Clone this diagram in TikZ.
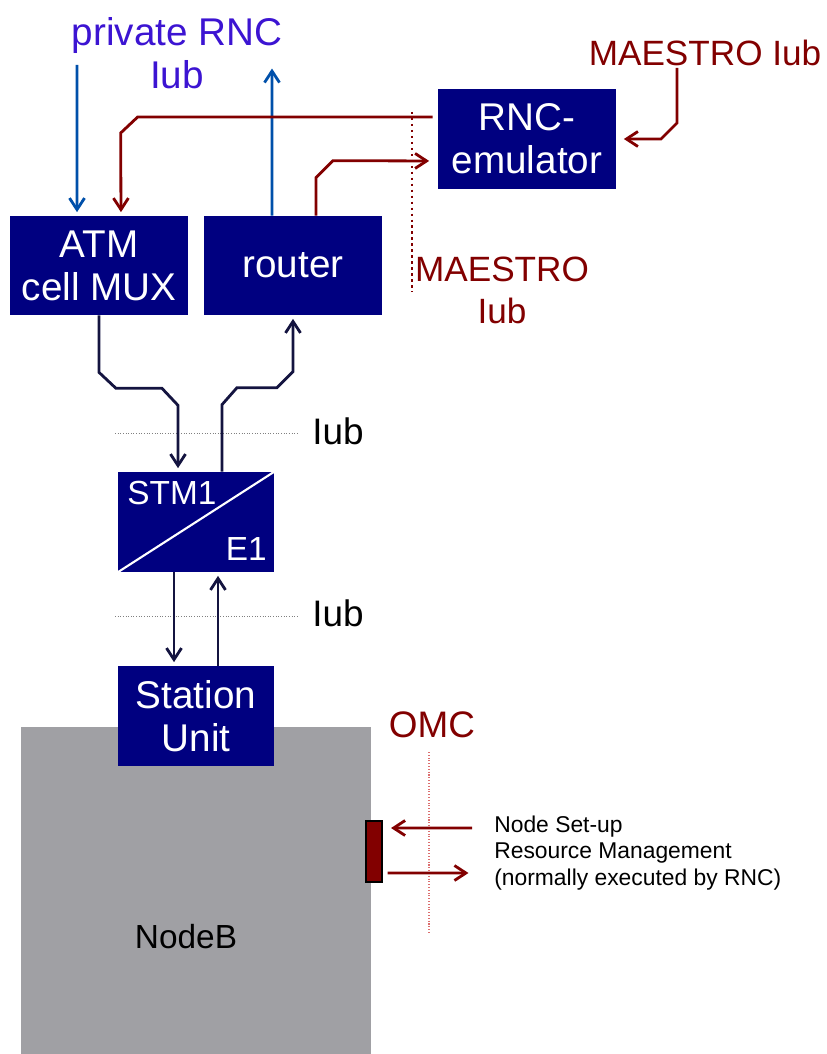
\documentclass[tikz,border=0pt]{standalone}
\usepackage{fontspec}
\setmainfont{Liberation Sans}
\usetikzlibrary{arrows.meta}
\definecolor{boxnavy}{RGB}{0,0,128}
\definecolor{wirenavy}{RGB}{20,20,64}
\definecolor{iubblue}{RGB}{0,80,170}
\definecolor{privtext}{RGB}{60,20,210}
\definecolor{maestro}{RGB}{130,0,0}
\definecolor{omcdots}{RGB}{220,110,110}
\definecolor{nodegray}{RGB}{160,160,164}

\begin{document}
\begin{tikzpicture}[x=0.02cm, y=-0.02cm,
  bigfont/.style={font=\fontsize{22}{24.5}\selectfont},
  unit/.style={fill=boxnavy, text=white, align=center, inner sep=0pt,
    minimum width=3.56cm, minimum height=1.98cm, bigfont},
  redlbl/.style={text=maestro, font=\fontsize{20}{24}\selectfont, inner sep=0pt},
  wire/.style={wirenavy, line width=1.6pt, shorten >=2pt,
    -{Straight Barb[length=2.3mm, width=3mm]}},
  privwire/.style={wire, iubblue},
  rwire/.style={wire, maestro},
  iubline/.style={gray, densely dotted, line width=0.5pt}]
\useasboundingbox (0,0) rectangle (827,1054);

% RNC side: multiplexer, router and emulator
\node[unit] (mux) at (99,265.5) {ATM\\cell MUX};
\node[unit] (router) at (293,265.5) {router};
\node[unit, minimum height=2cm] (emu) at (527,139) {RNC-\\emulator};
\node[bigfont, text=privtext, align=center, inner sep=0pt] (privlbl) at (177,53) {private RNC\\Iub};
\node[redlbl] (maestrotop) at (705,53) {MAESTRO Iub};
\node[redlbl, align=center] (maestrolow) at (502,290) {MAESTRO\\Iub};
\draw[maestro, dotted, line width=1.4pt] (412,112) -- (412,292);

\coordinate (privin) at (77,65);
\coordinate (privout) at (272,65);
\coordinate (maestrosrc) at (677,68);

\draw[privwire] (privin) -- ([xshift=-0.44cm]mux.north);
\draw[privwire] ([xshift=-0.42cm]router.north) -- (privout);
\draw[rwire] ([xshift=-0.1cm, yshift=0.44cm]emu.west) -- ++(-295,0) -- ++(-17,16) -- ([xshift=0.44cm]mux.north);
\draw[rwire] ([xshift=0.46cm]router.north) -- ++(0,-38) -- ++(17,-17) -- ([xshift=-0.1cm, yshift=-0.44cm]emu.west);
\draw[rwire] (maestrosrc) -- ++(0,55) -- ++(-16,16) -- ([xshift=0.08cm]emu.east);

% STM1/E1 converter and the two Iub cuts
\node[unit, minimum width=3.12cm, minimum height=2cm] (stm) at (196,522) {};
\draw[white, line width=1.2pt] (stm.south west) -- (stm.north east);
\node[font=\fontsize{19}{22}\selectfont, text=white, anchor=west, inner sep=0pt] (stmtxt) at (127,493) {STM1};
\node[font=\fontsize{19}{22}\selectfont, text=white, anchor=east, inner sep=0pt] (eonetxt) at (267,549) {E1};

\draw[iubline] (115,433) -- (298,433);
\draw[iubline] (115,616) -- (298,616);
\node[font=\fontsize{21}{24}\selectfont, anchor=west, inner sep=0pt] (iubup) at (312,431) {Iub};
\node[font=\fontsize{21}{24}\selectfont, anchor=west, inner sep=0pt] (iubdown) at (312,613) {Iub};

\draw[wire] (mux.south) -- ++(0,57) -- ++(17,16) -- ++(46,0) -- ++(16,17) -- ([xshift=-0.36cm]stm.north);
\draw[wire] ([xshift=0.52cm]stm.north) -- ++(0,-67) -- ++(15,-17) -- ++(40,0) -- ++(16,-16) -- (router.south);

% NodeB with station unit and OMC port
\node[fill=nodegray, inner sep=0pt, minimum width=7cm, minimum height=6.54cm] (nodeb) at (196,890.5) {};
\node[font=\fontsize{19}{22}\selectfont] (nodebtxt) at (186,937) {NodeB};
\node[unit, minimum width=3.12cm, minimum height=2cm] (su) at (196,716) {Station\\Unit};

\draw[wire] ([xshift=-0.44cm]stm.south) -- ([xshift=-0.44cm]su.north);
\draw[wire] ([xshift=0.44cm]su.north) -- ([xshift=0.44cm]stm.south);

\node[fill=maestro, draw=black, line width=0.6pt, inner sep=0pt,
  minimum width=0.32cm, minimum height=1.22cm] (omcport) at (374,851.5) {};
\node[redlbl, font=\fontsize{21}{24}\selectfont] (omclbl) at (432,725) {OMC};
\draw[omcdots, densely dotted, line width=0.6pt] (429,752) -- (429,933);

\coordinate (omcin) at (472,828);
\coordinate (omcout) at (472,873);
\draw[rwire] (omcin) -- ([xshift=0.1cm, yshift=0.47cm]omcport.east);
\draw[rwire] ([xshift=0.1cm, yshift=-0.43cm]omcport.east) -- (omcout);
\node[anchor=west, align=left, font=\fontsize{13}{15}\selectfont, inner sep=0pt] (omctxt) at (494,853)
  {Node Set-up\\Resource Management\\(normally executed by RNC)};
\end{tikzpicture}
\end{document}
